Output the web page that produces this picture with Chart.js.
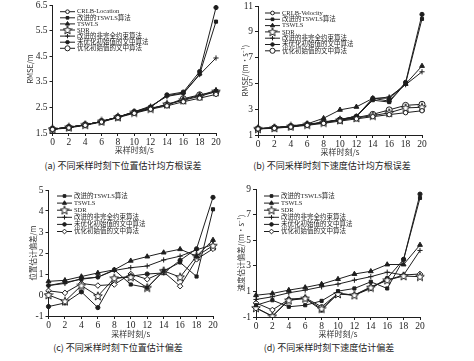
<!DOCTYPE html>
<html>
<head>
<meta charset="utf-8">
<script src="https://cdn.jsdelivr.net/npm/chart.js@4.4.1/dist/chart.umd.min.js"></script>
<style>
  body { margin: 0; background: #fff; }
  #wrap { position: relative; width: 474px; height: 361px; overflow: hidden; background: #fff; }
  .pane { position: absolute; }
  .cap { position: absolute; font-family: "Noto Sans CJK SC"; font-size: 9px; color: #222; white-space: nowrap; transform: translateX(-50%); }
</style>
</head>
<body>
<div id="wrap">
  <div class="pane" style="left:0;top:0;width:237px;height:155px"><canvas id="chartA"></canvas></div>
  <div class="pane" style="left:237px;top:0;width:237px;height:157px"><canvas id="chartB"></canvas></div>
  <div class="pane" style="left:0;top:180px;width:237px;height:159px"><canvas id="chartC"></canvas></div>
  <div class="pane" style="left:237px;top:180px;width:237px;height:159px"><canvas id="chartD"></canvas></div>
  <div class="cap" style="left:123px;top:159px">(a) 不同采样时刻下位置估计均方根误差</div>
  <div class="cap" style="left:332px;top:159px">(b) 不同采样时刻下速度估计均方根误差</div>
  <div class="cap" style="left:118px;top:341px">(c) 不同采样时刻下位置估计偏差</div>
  <div class="cap" style="left:329px;top:341px">(d) 不同采样时刻下速度估计偏差</div>
</div>
<script>
// sample times (s)
const times = [0, 2, 4, 6, 8, 10, 12, 14, 16, 18, 20];

// (a) position RMSE / m
const posRmseCrlb   = [1.64, 1.70, 1.80, 1.93, 2.10, 2.27, 2.43, 2.56, 2.72, 2.86, 3.01];
const posRmseItswls = [1.65, 1.72, 1.82, 1.95, 2.12, 2.33, 2.52, 2.96, 3.06, 3.80, 5.85];
const posRmseTswls  = [1.65, 1.72, 1.82, 1.95, 2.12, 2.30, 2.46, 2.60, 2.80, 2.97, 3.16];
const posRmseSdr    = [1.65, 1.72, 1.82, 1.95, 2.12, 2.30, 2.45, 2.62, 2.78, 2.93, 3.12];
const posRmseIncomp = [1.65, 1.72, 1.82, 1.95, 2.12, 2.33, 2.55, 2.93, 3.04, 3.78, 4.43];
const posRmseUnopt  = [1.65, 1.72, 1.82, 1.95, 2.12, 2.32, 2.50, 2.99, 3.10, 3.90, 6.40];
const posRmseOpt    = [1.65, 1.72, 1.82, 1.95, 2.12, 2.30, 2.45, 2.60, 2.84, 2.99, 3.10];

// (b) velocity RMSE / (m/s)
const velRmseCrlb   = [1.47, 1.52, 1.62, 1.75, 1.90, 2.08, 2.25, 2.42, 2.58, 2.73, 2.88];
const velRmseItswls = [1.48, 1.55, 1.66, 1.80, 1.98, 2.18, 2.42, 3.70, 3.55, 5.00, 10.00];
const velRmseTswls  = [1.50, 1.58, 1.70, 1.86, 2.30, 2.95, 3.18, 3.84, 3.86, 4.95, 6.35];
const velRmseSdr    = [1.48, 1.55, 1.66, 1.80, 1.96, 2.15, 2.32, 2.50, 2.72, 3.10, 3.15];
const velRmseIncomp = [1.50, 1.57, 1.68, 1.83, 2.00, 2.20, 2.45, 3.80, 3.95, 4.90, 5.90];
const velRmseUnopt  = [1.48, 1.55, 1.66, 1.80, 1.98, 2.20, 2.45, 3.85, 3.62, 5.08, 10.35];
const velRmseOpt    = [1.48, 1.55, 1.66, 1.80, 1.97, 2.16, 2.35, 2.60, 2.95, 3.30, 3.38];

// (c) position bias / m
const posBiasItswls = [0.45, 0.60, 0.75, 0.85, 1.20, 0.50, 0.35, 1.15, 1.55, 0.88, 4.08];
const posBiasTswls  = [0.65, 0.70, 0.88, 1.05, 1.20, 1.63, 1.83, 2.02, 2.18, 1.85, 2.62];
const posBiasSdr    = [0.00, -0.30, 0.45, -0.05, 0.80, 0.85, 0.35, 1.15, 0.85, 1.85, 2.35];
const posBiasIncomp = [0.45, 0.55, 0.78, 0.85, 1.17, 1.30, 1.38, 1.67, 1.85, 2.15, 2.40];
const posBiasUnopt  = [-0.55, -0.38, 0.15, -0.60, 0.78, 0.90, 1.00, 1.05, 1.65, 2.20, 4.65];
const posBiasOpt    = [0.20, 0.10, 0.55, 0.45, 0.50, 1.00, 0.75, 1.10, 0.42, 1.70, 2.20];

// (d) velocity bias / (m/s)
const velBiasItswls = [-0.08, 0.31, -0.20, -0.08, 0.26, 1.02, 1.23, 1.75, 1.23, 3.50, 8.30];
const velBiasTswls  = [0.70, 0.84, 1.10, 1.31, 1.57, 1.96, 2.36, 2.57, 3.10, 3.10, 4.63];
const velBiasSdr    = [-0.29, -0.94, 0.30, 0.45, -0.35, 0.80, 0.70, 1.30, 1.88, 2.20, 2.15];
const velBiasIncomp = [0.37, 0.58, 0.89, 1.10, 1.36, 1.57, 1.88, 2.15, 2.50, 2.28, 4.20];
const velBiasUnopt  = [-0.29, -0.94, 0.37, 0.45, -0.47, 0.84, 0.70, 1.23, 2.02, 3.50, 8.60];
const velBiasOpt    = [0.10, -0.45, 0.37, 0.50, -0.20, 0.84, 0.72, 1.36, 1.88, 2.28, 2.36];

const ink = '#1e1e1e';
const serif = '"Liberation Serif", "DejaVu Serif", serif';
const cjk = '"Noto Sans CJK SC", sans-serif';
const legendFont = '6.5px "Liberation Serif", "Noto Sans CJK SC", serif';

// open five-point star marker for SDR
const starImg = document.createElement('canvas');
starImg.width = 10; starImg.height = 10;
(function () {
  const c = starImg.getContext('2d');
  c.beginPath();
  for (let i = 0; i < 10; i++) {
    const r = i % 2 === 0 ? 4.5 : 1.9;
    const a = -Math.PI / 2 + i * Math.PI / 5;
    const px = 5 + r * Math.cos(a), py = 5.3 + r * Math.sin(a);
    if (i === 0) c.moveTo(px, py); else c.lineTo(px, py);
  }
  c.closePath();
  c.fillStyle = '#fff'; c.fill();
  c.strokeStyle = ink; c.lineWidth = 1; c.stroke();
})();

const markers = {
  crlb:   { pointStyle: 'circle', pointRadius: 2.2, pointBackgroundColor: '#fff' },
  itswls: { pointStyle: 'rect', pointRadius: 2.2, pointBackgroundColor: ink },
  tswls:  { pointStyle: 'triangle', pointRadius: 2.8, pointBackgroundColor: ink },
  sdr:    { pointStyle: starImg, pointRadius: 4, pointBackgroundColor: '#fff' },
  incomp: { pointStyle: 'cross', pointRadius: 2.6, pointBackgroundColor: ink },
  unopt:  { pointStyle: 'circle', pointRadius: 2.1, pointBackgroundColor: ink },
  opt:    { pointStyle: 'circle', pointRadius: 3, pointBackgroundColor: '#fff' },
  optD:   { pointStyle: 'rectRot', pointRadius: 2.8, pointBackgroundColor: '#fff' }
};

function series(label, data, mk) {
  return Object.assign({
    label: label, data: data,
    borderColor: ink, borderWidth: 1, pointBorderColor: ink, pointBorderWidth: 1,
    tension: 0
  }, mk);
}

// legend drawn inside the plot, line + marker + text
const inLegend = {
  id: 'inLegend',
  afterDraw(chart, args, opts) {
    const ctx = chart.ctx;
    ctx.save();
    ctx.textBaseline = 'middle';
    ctx.textAlign = 'left';
    chart.data.datasets.forEach((ds, i) => {
      const y = opts.y + i * opts.step;
      ctx.strokeStyle = ink;
      ctx.lineWidth = 1;
      ctx.beginPath();
      ctx.moveTo(opts.x, y);
      ctx.lineTo(opts.x + opts.len, y);
      ctx.stroke();
      ctx.fillStyle = ds.pointBackgroundColor;
      Chart.helpers.drawPoint(ctx, { pointStyle: ds.pointStyle, radius: ds.pointRadius * 0.85, rotation: 0, borderWidth: 1 }, opts.x + opts.len / 2, y);
      ctx.fillStyle = ink;
      ctx.font = legendFont;
      ctx.fillText(ds.label, opts.x + opts.len + 2, y);
    });
    ctx.restore();
  }
};

function axes(yMin, yMax, yStep, digits, yTitle, yWidth, xHeight) {
  return {
    x: {
      type: 'category', offset: false,
      grid: { drawOnChartArea: false, tickLength: 3, color: ink },
      border: { color: ink, width: 1 },
      ticks: { font: { family: serif, size: 9.5 }, color: ink, padding: 1, maxRotation: 0, autoSkip: false },
      title: { display: true, text: '采样时刻/s', font: { family: cjk, size: 8 }, color: '#333', padding: 0 },
      afterFit(s) { s.height = xHeight; s.paddingLeft = 0; s.paddingRight = 0; }
    },
    y: {
      min: yMin, max: yMax,
      grid: { drawOnChartArea: false, tickLength: 3, color: ink },
      border: { color: ink, width: 1 },
      ticks: { stepSize: yStep, font: { family: serif, size: 9.5 }, color: ink, padding: 2,
               callback: v => Number(v).toFixed(digits) },
      title: { display: true, text: yTitle, font: { family: cjk, size: 7.5 }, color: '#333', padding: 0 },
      afterFit(s) { s.width = yWidth; s.paddingTop = 0; s.paddingBottom = 0; }
    }
  };
}

function makeChart(id, datasets, scales, padding, legend) {
  return new Chart(document.getElementById(id), {
    type: 'line',
    data: { labels: times, datasets: datasets },
    options: {
      responsive: true, maintainAspectRatio: false, animation: false, devicePixelRatio: 1,
      layout: { padding: padding },
      scales: scales,
      plugins: { legend: { display: false }, tooltip: { enabled: false }, inLegend: legend }
    },
    plugins: [inLegend]
  });
}

makeChart('chartA', [
  series('CRLB-Location', posRmseCrlb, markers.crlb),
  series('改进的TSWLS算法', posRmseItswls, markers.itswls),
  series('TSWLS', posRmseTswls, markers.tswls),
  series('SDR', posRmseSdr, markers.sdr),
  series('改进的非完全约束算法', posRmseIncomp, markers.incomp),
  series('未优化初始值的文中算法', posRmseUnopt, markers.unopt),
  series('优化初始值的文中算法', posRmseOpt, markers.opt)
], axes(1.5, 6.5, 0.5, 1, 'RMSE/m', 27, 22),
  { left: 25.5, right: 21, top: 5, bottom: 0 },
  { x: 60, y: 11.7, step: 6.1, len: 15 });

makeChart('chartB', [
  series('CRLB-Velocity', velRmseCrlb, markers.crlb),
  series('改进的TSWLS算法', velRmseItswls, markers.itswls),
  series('TSWLS', velRmseTswls, markers.tswls),
  series('SDR', velRmseSdr, markers.sdr),
  series('改进的非完全约束算法', velRmseIncomp, markers.incomp),
  series('未优化初始值的文中算法', velRmseUnopt, markers.unopt),
  series('优化初始值的文中算法', velRmseOpt, markers.opt)
], axes(1, 11, 1, 0, 'RMSE/(m·s⁻¹)', 17.5, 22),
  { left: 3.5, right: 52, top: 6, bottom: 0 },
  { x: 28, y: 13, step: 6.3, len: 15 });

makeChart('chartC', [
  series('改进的TSWLS算法', posBiasItswls, markers.itswls),
  series('TSWLS', posBiasTswls, markers.tswls),
  series('SDR', posBiasSdr, markers.sdr),
  series('改进的非完全约束算法', posBiasIncomp, markers.incomp),
  series('未优化初始值的文中算法', posBiasUnopt, markers.unopt),
  series('优化初始值的文中算法', posBiasOpt, markers.optD)
], axes(-1, 5, 1, 0, '位置估计偏差/m', 19.7, 23),
  { left: 28.8, right: 24, top: 10, bottom: 0 },
  { x: 57, y: 16, step: 7.1, len: 15 });

makeChart('chartD', [
  series('改进的TSWLS算法', velBiasItswls, markers.itswls),
  series('TSWLS', velBiasTswls, markers.tswls),
  series('SDR', velBiasSdr, markers.sdr),
  series('改进的非完全约束算法', velBiasIncomp, markers.incomp),
  series('未优化初始值的文中算法', velBiasUnopt, markers.unopt),
  series('优化初始值的文中算法', velBiasOpt, markers.optD)
], axes(-1, 9, 1, 0, '速度估计偏差/(m·s⁻¹)', 19, 22),
  { left: 0, right: 54, top: 9, bottom: 0 },
  { x: 27, y: 16, step: 7.1, len: 15 });
</script>
</body>
</html>
